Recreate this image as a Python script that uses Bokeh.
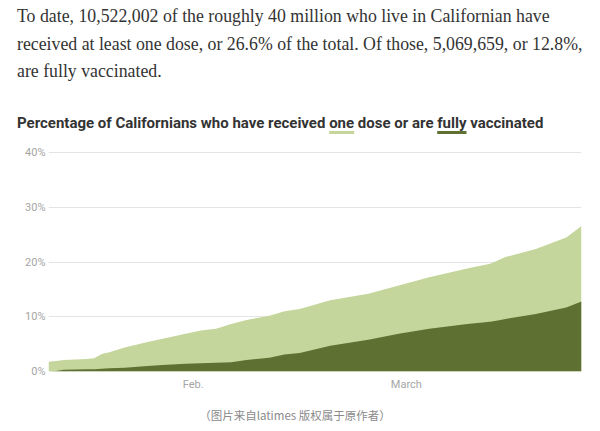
import pandas as pd
from bokeh.plotting import figure
from bokeh.layouts import column
from bokeh.models import Range1d, FixedTicker, Div
from bokeh.embed import file_html
from bokeh.resources import INLINE

# ---------------- data ----------------
dates = ["2021-01-13", "2021-01-14", "2021-01-15", "2021-01-18", "2021-01-19",
         "2021-01-20", "2021-01-21", "2021-01-23", "2021-01-26", "2021-01-28",
         "2021-01-31", "2021-02-02", "2021-02-04", "2021-02-06", "2021-02-08",
         "2021-02-11", "2021-02-13", "2021-02-15", "2021-02-19", "2021-02-24",
         "2021-02-28", "2021-03-04", "2021-03-09", "2021-03-12", "2021-03-13",
         "2021-03-14", "2021-03-18", "2021-03-22", "2021-03-24"]
one_dose = [1.8, 1.9, 2.1, 2.3, 2.4, 3.2, 3.5, 4.4, 5.4, 6.0, 6.9, 7.5, 7.8, 8.7,
            9.4, 10.2, 11.0, 11.4, 13.0, 14.2, 15.7, 17.2, 18.8, 19.7, 20.3, 20.9,
            22.4, 24.5, 26.6]
fully = [0.0, 0.1, 0.3, 0.4, 0.4, 0.5, 0.6, 0.7, 1.0, 1.2, 1.4, 1.5, 1.6, 1.7,
         2.1, 2.5, 3.1, 3.4, 4.7, 5.8, 6.9, 7.8, 8.7, 9.1, 9.3, 9.6, 10.5, 11.7, 12.8]
y_ticks = [0, 10, 20, 30, 40]
y_tick_labels = ["0%", "10%", "20%", "30%", "40%"]
x_tick_dates = ["2021-02-01", "2021-03-01"]
x_tick_labels = ["Feb.", "March"]

intro_lines = [
    "To date, 10,522,002 of the roughly 40 million who live in Californian have",
    "received at least one dose, or 26.6% of the total. Of those, 5,069,659, or 12.8%,",
    "are fully vaccinated.",
]
subtitle_parts = ["Percentage of Californians who have received", "one",
                  "dose or are", "fully", "vaccinated"]
caption = "（图片来自latimes 版权属于原作者）"

LIGHT = "#c4d69b"
DARK = "#5e7032"
W = 592

# ---------------- header ----------------
ul = ("text-decoration:underline;text-decoration-color:{c};"
      "text-decoration-thickness:2.5px;text-underline-offset:3px;"
      "text-decoration-skip-ink:none;")
sub_html = "{0} <span style='{u1}'>{1}</span> {2} <span style='{u2}'>{3}</span> {4}".format(
    *subtitle_parts, u1=ul.format(c=LIGHT), u2=ul.format(c=DARK))
header_html = (
    "<div style='padding:3px 0 0 17px;width:{w}px;box-sizing:border-box;'>"
    "<div style=\"font-family:'Liberation Serif';font-size:17.8px;line-height:27.5px;"
    "color:#333333;white-space:nowrap;\">{lines}</div>"
    "<div style=\"margin-top:28px;font-family:Roboto;font-weight:bold;font-size:15px;"
    "line-height:18px;color:#333333;white-space:nowrap;\">{sub}</div>"
    "</div>"
).format(w=W, lines="<br>".join(intro_lines), sub=sub_html)
header = Div(text=header_html, width=W, height=140, margin=0)

# ---------------- chart ----------------
dt = pd.to_datetime(dates)
p = figure(width=W, height=260, x_axis_type="datetime",
           x_range=Range1d(dt[0], dt[-1]), y_range=Range1d(0, 40.2),
           output_backend="svg", toolbar_location=None,
           min_border_left=48, min_border_right=11, min_border_top=11,
           min_border_bottom=29, margin=0)
p.outline_line_color = None
p.background_fill_color = "white"
p.varea(x=dt, y1=0, y2=one_dose, color=LIGHT)
p.varea(x=dt, y1=0, y2=fully, color=DARK)

p.xgrid.visible = False
p.ygrid.ticker = FixedTicker(ticks=y_ticks)
p.ygrid.grid_line_color = "#e4e4e4"

p.yaxis.ticker = FixedTicker(ticks=y_ticks)
p.yaxis.major_label_overrides = {t: l for t, l in zip(y_ticks, y_tick_labels)}
p.yaxis.axis_line_color = None
p.yaxis.major_tick_line_color = None
p.yaxis.minor_tick_line_color = None
p.yaxis.major_tick_out = 0
p.yaxis.major_tick_in = 0
p.yaxis.minor_tick_out = 0
p.yaxis.major_label_standoff = 3
p.yaxis.major_label_text_font = "Roboto"
p.yaxis.major_label_text_font_size = "11px"
p.yaxis.major_label_text_color = "#a5a5a5"

x_ticks_ms = [pd.Timestamp(d).value / 1e6 for d in x_tick_dates]
p.xaxis.ticker = FixedTicker(ticks=x_ticks_ms)
p.xaxis.major_label_overrides = {t: l for t, l in zip(x_ticks_ms, x_tick_labels)}
p.xaxis.axis_line_color = None
p.xaxis.major_tick_line_color = None
p.xaxis.minor_tick_line_color = None
p.xaxis.major_tick_out = 0
p.xaxis.major_tick_in = 0
p.xaxis.minor_tick_out = 0
p.xaxis.major_label_standoff = 6
p.xaxis.major_label_text_font = "Roboto"
p.xaxis.major_label_text_font_size = "11px"
p.xaxis.major_label_text_color = "#a5a5a5"

# ---------------- caption ----------------
cap_html = ("<div style=\"width:{w}px;padding-top:7px;text-align:center;"
            "font-family:'Noto Sans CJK SC';font-size:11.5px;line-height:16px;"
            "color:#8a8a8a;\">{t}</div>").format(w=W - 2, t=caption)
cap = Div(text=cap_html, width=W, height=27, margin=0)

layout = column(header, p, cap, spacing=0)
open("out.html", "w").write(file_html(layout, INLINE))
